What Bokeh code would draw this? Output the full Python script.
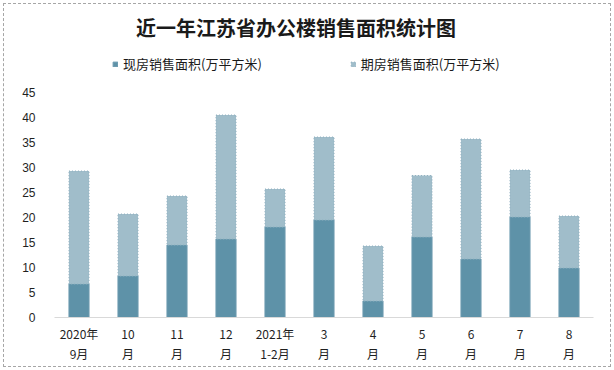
from bokeh.plotting import figure
from bokeh.models import (ColumnDataSource, Range1d, FactorRange, Legend, CategoricalAxis, Label,
                          CustomJSTickFormatter)
from bokeh.embed import file_html
from bokeh.resources import INLINE

# ---- data ----
label_line1 = ["2020年", "10", "11", "12", "2021年", "3", "4", "5", "6", "7", "8"]
label_line2 = ["9月", "月", "月", "月", "1-2月", "月", "月", "月", "月", "月", "月"]
existing = [6.7, 8.3, 14.5, 15.7, 18.1, 19.5, 3.3, 16.1, 11.7, 20.1, 9.9]
forward = [22.6, 12.4, 9.8, 24.8, 7.6, 16.6, 11.0, 12.3, 24.0, 9.4, 10.4]
y_ticks = [0, 5, 10, 15, 20, 25, 30, 35, 40, 45]
series_names = ["现房销售面积(万平方米)", "期房销售面积(万平方米)"]
title_text = "近一年江苏省办公楼销售面积统计图"

DARK = "#5e92a8"
LIGHT = "#a0bdca"
CJK = "Noto Sans CJK SC"

src = ColumnDataSource(dict(cat=label_line1, existing=existing, forward=forward))

# frame spans from the canvas top down to the x axis; the value axis shows 0-45 only
p = figure(
    frame_width=539, frame_height=317,
    min_border_left=54, min_border_right=21, min_border_top=0, min_border_bottom=53,
    x_range=FactorRange(*label_line1, range_padding=0),
    y_range=Range1d(0, 63.4),
    output_backend="svg", toolbar_location=None,
)
# chart border drawn by the page (fills transparent so it shows through)
p.styles = {"outline": "1px dashed #a6a6a6", "outline-offset": "-4px"}
p.outline_line_color = None
p.background_fill_alpha = 0
p.border_fill_alpha = 0
p.xgrid.grid_line_color = None
p.ygrid.grid_line_color = None

renderers = p.vbar_stack(
    ["existing", "forward"], x="cat", width=0.41, source=src,
    fill_color=[DARK, LIGHT], line_color=["#6d9bb0", "#8fb0bf"],
    line_dash=["solid", "1 2"], line_width=1,
)

# y axis
p.yaxis.ticker = y_ticks
p.yaxis.axis_line_color = None
p.yaxis.major_tick_line_color = None
p.yaxis.minor_tick_line_color = None
p.yaxis.major_tick_out = 0
p.yaxis.major_tick_in = 0
p.yaxis.major_label_standoff = 19
p.yaxis.major_label_text_font = "Liberation Sans"
p.yaxis.major_label_text_font_size = "12px"
p.yaxis.major_label_text_color = "#1f1f1f"

# x axis: two label rows
p.xaxis.axis_line_color = "#d9d9d9"
p.xaxis.axis_line_width = 1
p.xaxis.major_tick_line_color = None
p.xaxis.minor_tick_line_color = None
p.xaxis.major_tick_out = 0
p.xaxis.major_tick_in = 0
p.xaxis.major_label_standoff = 7
p.xaxis.major_label_text_font = CJK
p.xaxis.major_label_text_font_size = "12px"
p.xaxis.major_label_text_color = "#1f1f1f"

ax2 = CategoricalAxis(
    axis_line_color=None, major_tick_line_color=None, minor_tick_line_color=None,
    major_tick_out=0, major_tick_in=0,
    major_label_standoff=0, major_label_text_font=CJK, major_label_text_font_size="12px",
    major_label_text_color="#1f1f1f",
    formatter=CustomJSTickFormatter(args=dict(keys=label_line1, vals=label_line2),
                                    code="return vals[keys.indexOf(tick)];"),
)
p.add_layout(ax2, "below")

# title
title = Label(x=4.93, y=58.0, text=title_text, text_align="center", text_baseline="middle",
              text_font=CJK, text_font_style="bold", text_font_size="20px",
              text_color="#1a1a1a")
p.add_layout(title)

# legend
legend = Legend(
    items=[(series_names[0], [renderers[0]]), (series_names[1], [renderers[1]])],
    location=(58, 244), orientation="horizontal",
    padding=0, margin=0, spacing=88,
    glyph_width=6, glyph_height=6, label_standoff=5, label_height=16,
    label_text_font=CJK, label_text_font_size="13px", label_text_color="#1a1a1a",
    border_line_color=None, background_fill_alpha=0,
)
p.add_layout(legend, "center")

open("out.html", "w").write(file_html(p, INLINE))
